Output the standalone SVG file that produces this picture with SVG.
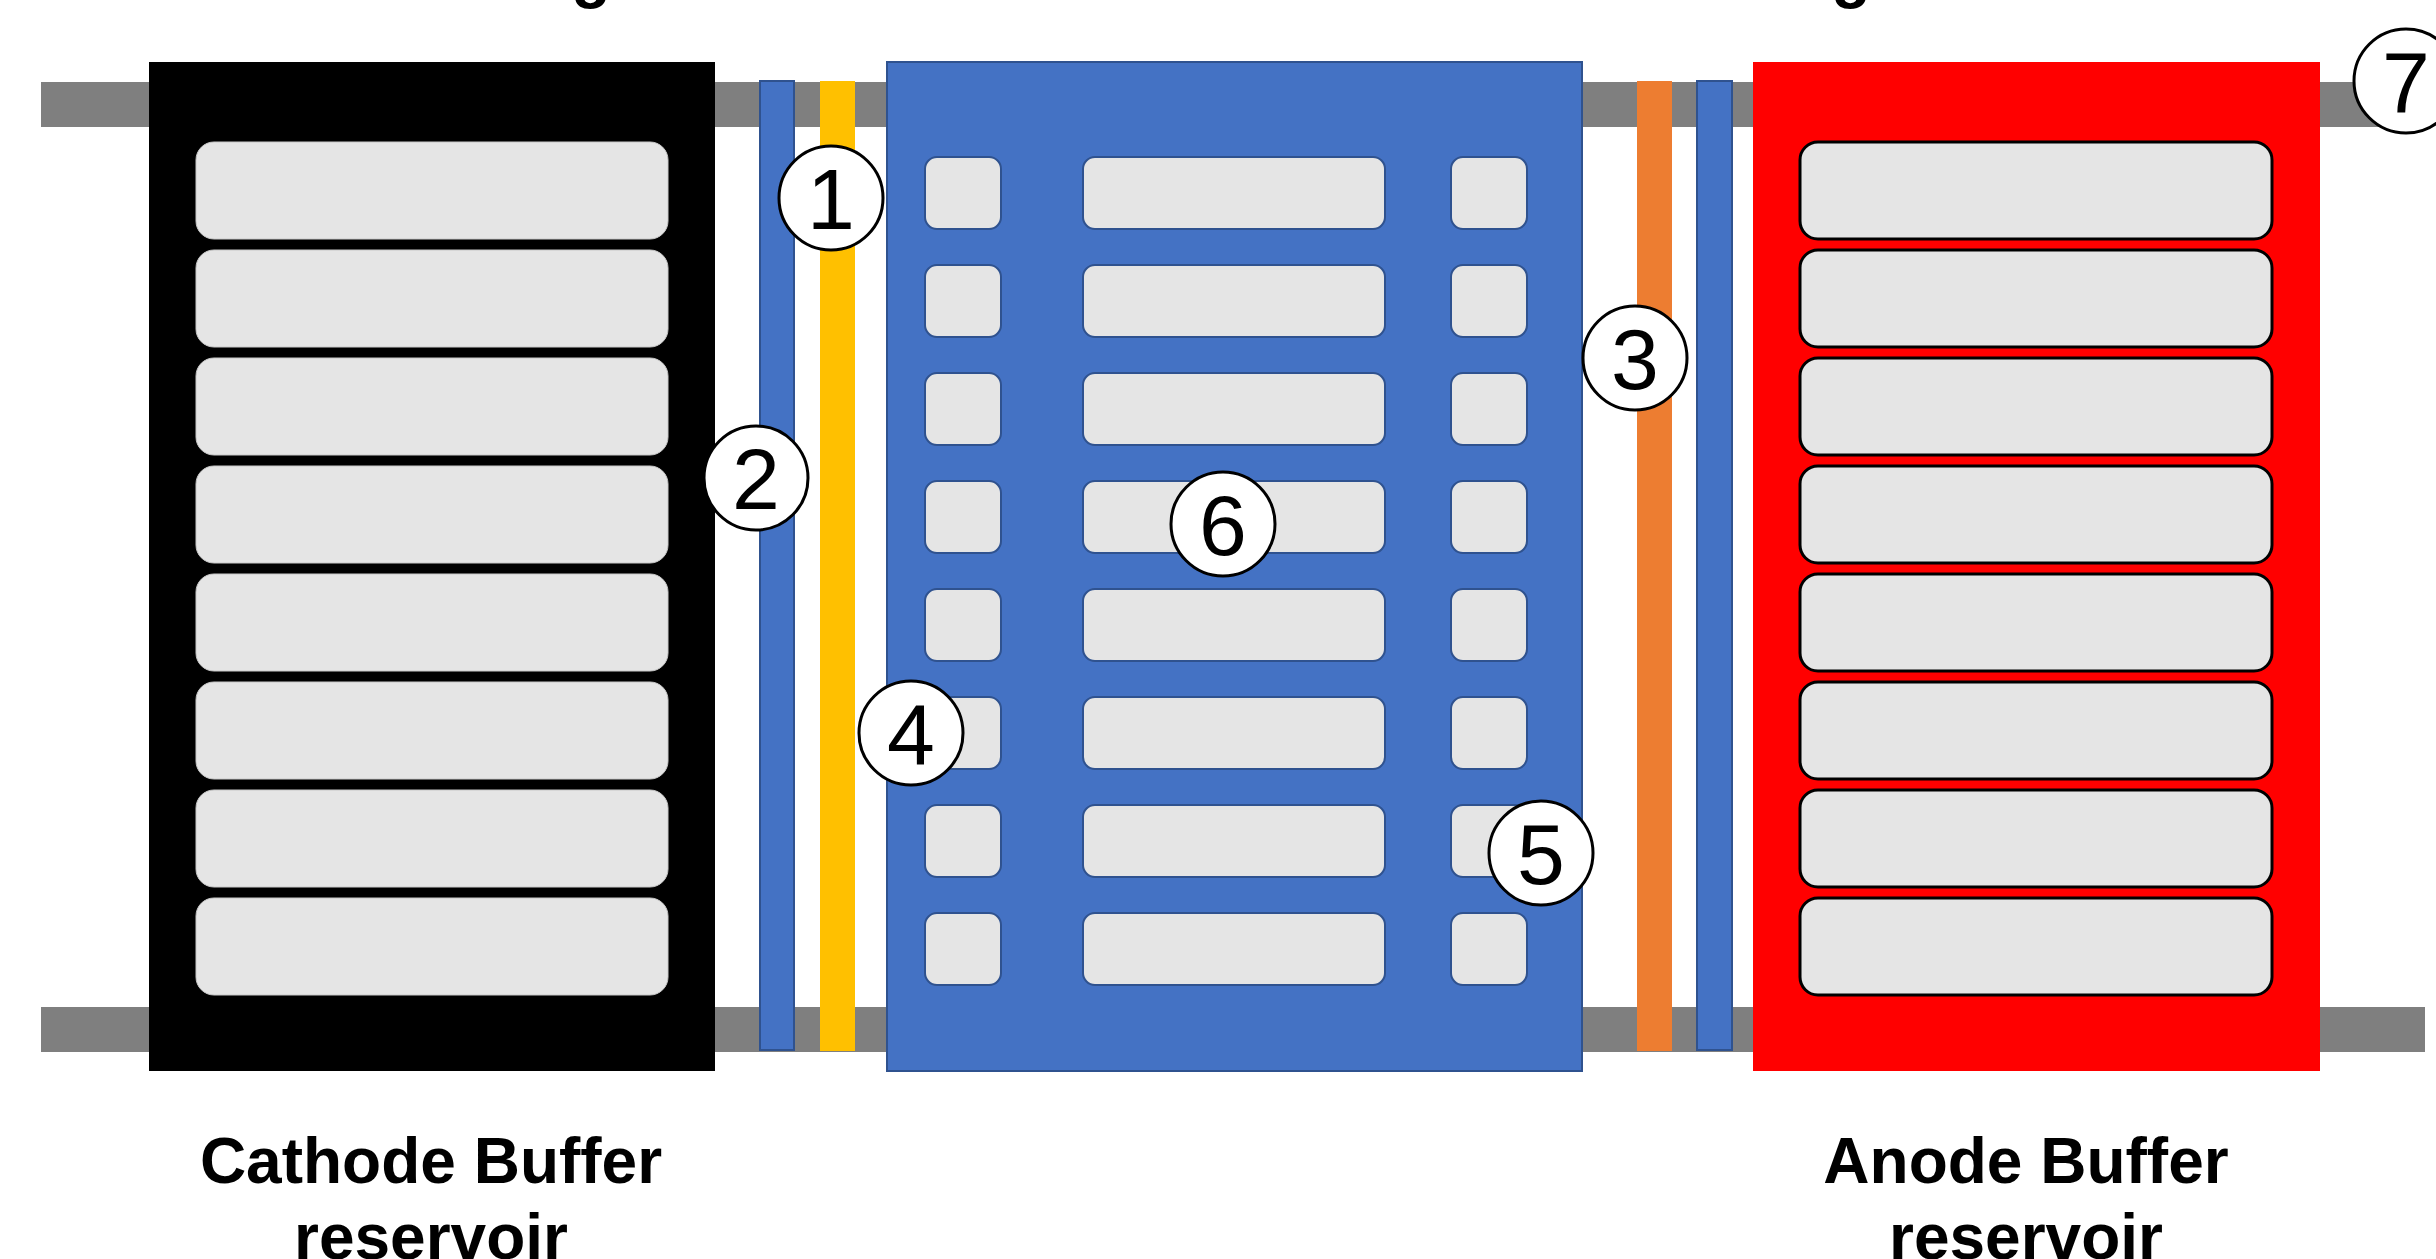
<svg xmlns="http://www.w3.org/2000/svg" width="2436" height="1259" viewBox="0 0 2436 1259">
  <style>
    .bar { fill: #7F7F7F; }
    .well-k { fill: #E5E5E5; stroke: #C8C8C8; stroke-width: 1; }
    .well-r { fill: #E5E5E5; stroke: #000000; stroke-width: 3; }
    .well-b { fill: #E5E5E5; stroke: #2F528F; stroke-width: 2; }
    .blue { fill: #4472C4; stroke: #2F528F; stroke-width: 2; }
    .badge circle { fill: #FFFFFF; stroke: #000000; stroke-width: 3; }
    .badge text { font-family: "Liberation Sans", Arial, sans-serif; font-size: 86px; text-anchor: middle; fill: #000000; }
    .label { font-family: "Liberation Sans", Arial, sans-serif; font-size: 64px; font-weight: bold; text-anchor: middle; fill: #000000; }
  </style>
  <defs>
    <rect id="wellLarge" width="472" height="97" rx="18" ry="18"/>
    <rect id="wellSmall" width="76" height="72" rx="12" ry="12"/>
    <rect id="wellMid" width="302" height="72" rx="12" ry="12"/>
  </defs>
  <rect width="2436" height="1259" fill="#FFFFFF"/>

  <!-- title descenders at the top edge -->
  <text class="label" x="591" y="-4" font-size="72">g</text>
  <text class="label" x="1851" y="-4" font-size="72">g</text>

  <!-- support rails -->
  <g id="rails">
    <rect class="bar" x="41" y="82" width="2384" height="45"/>
    <rect class="bar" x="41" y="1007" width="2384" height="45"/>
  </g>

  <!-- cathode buffer reservoir -->
  <g id="cathode">
    <rect x="149" y="62" width="566" height="1009" fill="#000000"/>
    <use href="#wellLarge" class="well-k" x="196" y="142"/>
    <use href="#wellLarge" class="well-k" x="196" y="250"/>
    <use href="#wellLarge" class="well-k" x="196" y="358"/>
    <use href="#wellLarge" class="well-k" x="196" y="466"/>
    <use href="#wellLarge" class="well-k" x="196" y="574"/>
    <use href="#wellLarge" class="well-k" x="196" y="682"/>
    <use href="#wellLarge" class="well-k" x="196" y="790"/>
    <use href="#wellLarge" class="well-k" x="196" y="898"/>
  </g>

  <!-- membranes, cathode side -->
  <g id="membranes-left">
    <rect class="blue" x="760" y="81" width="34" height="969"/>
    <rect x="820" y="81" width="35" height="970" fill="#FFC000"/>
  </g>

  <!-- central gel block -->
  <g id="gel">
    <rect class="blue" x="887" y="62" width="695" height="1009"/>
    <g id="gel-wells">
      <use href="#wellSmall" class="well-b" x="925" y="157"/>
      <use href="#wellMid" class="well-b" x="1083" y="157"/>
      <use href="#wellSmall" class="well-b" x="1451" y="157"/>
      <use href="#wellSmall" class="well-b" x="925" y="265"/>
      <use href="#wellMid" class="well-b" x="1083" y="265"/>
      <use href="#wellSmall" class="well-b" x="1451" y="265"/>
      <use href="#wellSmall" class="well-b" x="925" y="373"/>
      <use href="#wellMid" class="well-b" x="1083" y="373"/>
      <use href="#wellSmall" class="well-b" x="1451" y="373"/>
      <use href="#wellSmall" class="well-b" x="925" y="481"/>
      <use href="#wellMid" class="well-b" x="1083" y="481"/>
      <use href="#wellSmall" class="well-b" x="1451" y="481"/>
      <use href="#wellSmall" class="well-b" x="925" y="589"/>
      <use href="#wellMid" class="well-b" x="1083" y="589"/>
      <use href="#wellSmall" class="well-b" x="1451" y="589"/>
      <use href="#wellSmall" class="well-b" x="925" y="697"/>
      <use href="#wellMid" class="well-b" x="1083" y="697"/>
      <use href="#wellSmall" class="well-b" x="1451" y="697"/>
      <use href="#wellSmall" class="well-b" x="925" y="805"/>
      <use href="#wellMid" class="well-b" x="1083" y="805"/>
      <use href="#wellSmall" class="well-b" x="1451" y="805"/>
      <use href="#wellSmall" class="well-b" x="925" y="913"/>
      <use href="#wellMid" class="well-b" x="1083" y="913"/>
      <use href="#wellSmall" class="well-b" x="1451" y="913"/>
    </g>
  </g>

  <!-- membranes, anode side -->
  <g id="membranes-right">
    <rect x="1637" y="81" width="35" height="970" fill="#ED7D31"/>
    <rect class="blue" x="1697" y="81" width="35" height="969"/>
  </g>

  <!-- anode buffer reservoir -->
  <g id="anode">
    <rect x="1753" y="62" width="567" height="1009" fill="#FF0000"/>
    <use href="#wellLarge" class="well-r" x="1800" y="142"/>
    <use href="#wellLarge" class="well-r" x="1800" y="250"/>
    <use href="#wellLarge" class="well-r" x="1800" y="358"/>
    <use href="#wellLarge" class="well-r" x="1800" y="466"/>
    <use href="#wellLarge" class="well-r" x="1800" y="574"/>
    <use href="#wellLarge" class="well-r" x="1800" y="682"/>
    <use href="#wellLarge" class="well-r" x="1800" y="790"/>
    <use href="#wellLarge" class="well-r" x="1800" y="898"/>
  </g>

  <!-- numbered callouts -->
  <g id="badge-1" class="badge"><circle cx="831" cy="198" r="52"/><text x="831" y="229">1</text></g>
  <g id="badge-2" class="badge"><circle cx="756" cy="478" r="52"/><text x="756" y="509">2</text></g>
  <g id="badge-3" class="badge"><circle cx="1635" cy="358" r="52"/><text x="1635" y="389">3</text></g>
  <g id="badge-4" class="badge"><circle cx="911" cy="733" r="52"/><text x="911" y="764">4</text></g>
  <g id="badge-5" class="badge"><circle cx="1541" cy="853" r="52"/><text x="1541" y="884">5</text></g>
  <g id="badge-6" class="badge"><circle cx="1223" cy="524" r="52"/><text x="1223" y="555">6</text></g>
  <g id="badge-7" class="badge"><circle cx="2406" cy="81" r="52"/><text x="2406" y="112">7</text></g>

  <!-- reservoir captions -->
  <g id="captions">
    <text class="label" x="431" y="1183">Cathode Buffer</text>
    <text class="label" x="431" y="1259">reservoir</text>
    <text class="label" x="2026" y="1183">Anode Buffer</text>
    <text class="label" x="2026" y="1259">reservoir</text>
  </g>
</svg>
